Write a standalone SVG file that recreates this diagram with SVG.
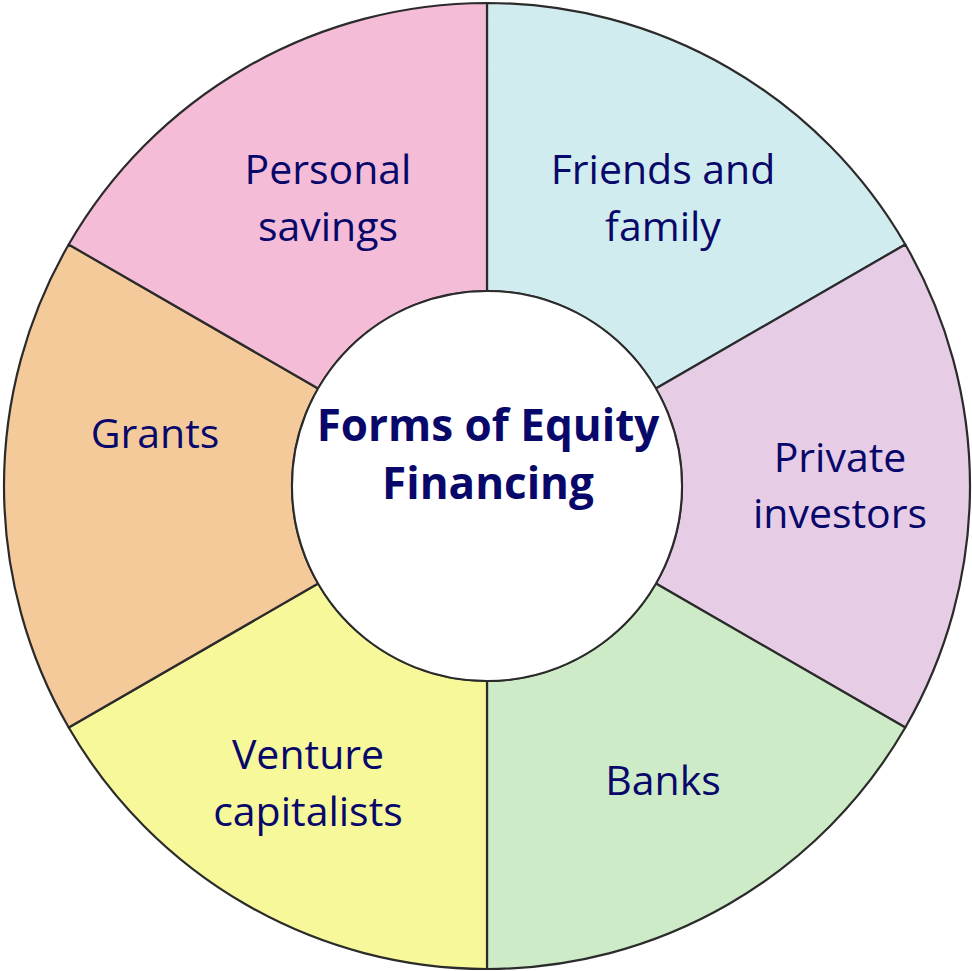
<svg xmlns="http://www.w3.org/2000/svg" width="972" height="971" viewBox="0 0 972 971">
<style>
.w{stroke:#2b2b2b;stroke-width:2.2;stroke-linejoin:round}
.t{font-family:"Open Sans","Liberation Sans",sans-serif;font-size:41px;fill:#08086a;text-anchor:middle}
.h{font-family:"Open Sans","Liberation Sans",sans-serif;font-size:44px;font-weight:bold;fill:#08086a;text-anchor:middle}
</style>
<rect width="972" height="971" fill="#ffffff"/>
<g id="friends">
<path class="w" fill="#D1ECEE" d="M487,3 A483,483 0 0 1 905.3,244.5 L655.9,388.5 A195,195 0 0 0 487,291 Z"/>
<text class="t" x="663" y="184">Friends and</text>
<text class="t" x="663" y="241">family</text>
</g>
<g id="private">
<path class="w" fill="#E7CCE6" d="M905.3,244.5 A483,483 0 0 1 905.3,727.5 L655.9,583.5 A195,195 0 0 0 655.9,388.5 Z"/>
<text class="t" x="840" y="472">Private</text>
<text class="t" x="840" y="528">investors</text>
</g>
<g id="banks">
<path class="w" fill="#CDEBC7" d="M905.3,727.5 A483,483 0 0 1 487,969 L487,681 A195,195 0 0 0 655.9,583.5 Z"/>
<text class="t" x="663" y="795">Banks</text>
</g>
<g id="venture">
<path class="w" fill="#F6F89A" d="M487,969 A483,483 0 0 1 68.7,727.5 L318.1,583.5 A195,195 0 0 0 487,681 Z"/>
<text class="t" x="308" y="769">Venture</text>
<text class="t" x="308" y="826">capitalists</text>
</g>
<g id="grants">
<path class="w" fill="#F5CA9A" d="M68.7,727.5 A483,483 0 0 1 68.7,244.5 L318.1,388.5 A195,195 0 0 0 318.1,583.5 Z"/>
<text class="t" x="155" y="448">Grants</text>
</g>
<g id="personal">
<path class="w" fill="#F4BCD6" d="M68.7,244.5 A483,483 0 0 1 487,3 L487,291 A195,195 0 0 0 318.1,388.5 Z"/>
<text class="t" x="328" y="184">Personal</text>
<text class="t" x="328" y="241">savings</text>
</g>
<g id="center">
<circle cx="487" cy="486" r="195" fill="#ffffff" stroke="#2b2b2b" stroke-width="2"/>
<text class="h" x="488" y="441">Forms of Equity</text>
<text class="h" x="488" y="499">Financing</text>
</g>
</svg>
